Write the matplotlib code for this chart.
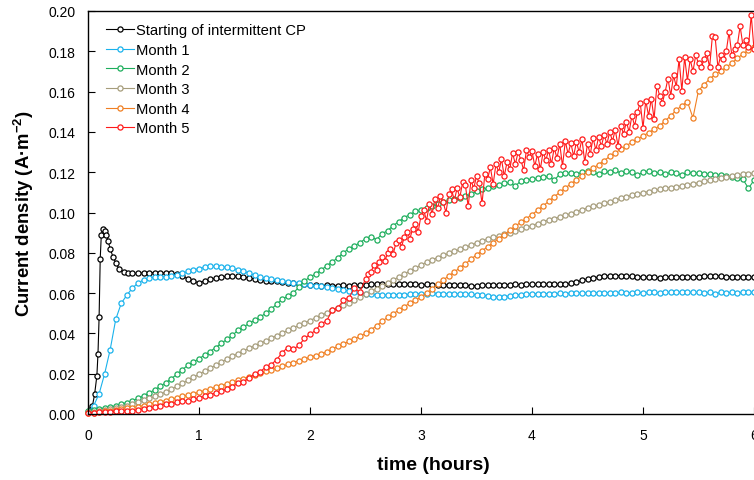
import numpy as np
import matplotlib
matplotlib.use("Agg")
import matplotlib.pyplot as plt
from matplotlib.ticker import FormatStrFormatter

plt.rcParams['font.family'] = ['Liberation Sans', 'DejaVu Sans']

# time grid (hours), 3-minute sampling
t = np.round(np.arange(0, 6.0001, 0.05), 3)

# starting of intermittent CP: denser sampling at the beginning
black_t_early = [0, 0.02, 0.04, 0.06, 0.08, 0.09, 0.10, 0.11, 0.12, 0.135,
                 0.15, 0.165, 0.18, 0.20, 0.225, 0.25, 0.28, 0.32, 0.36, 0.40]
black_early = [0.001, 0.002, 0.004, 0.010, 0.019, 0.030, 0.048, 0.077, 0.089, 0.092,
               0.091, 0.089, 0.086, 0.082, 0.078, 0.075, 0.072, 0.0705, 0.0700, 0.0698]
black_t_late = np.round(np.arange(0.45, 6.0001, 0.05), 3)
black_late = [
    0.0698, 0.0700, 0.0700, 0.0702, 0.0700, 0.0700, 0.0698, 0.0695, 0.0685, 0.0670,
    0.0658, 0.0652, 0.0660, 0.0668, 0.0675, 0.0680, 0.0683, 0.0684, 0.0683, 0.0680,
    0.0676, 0.0670, 0.0665, 0.0662, 0.0660, 0.0658, 0.0655, 0.0650, 0.0648, 0.0645,
    0.0643, 0.0640, 0.0638, 0.0637, 0.0638, 0.0637, 0.0636, 0.0638, 0.0637, 0.0638,
    0.0640, 0.0641, 0.0643, 0.0645, 0.0645, 0.0646, 0.0644, 0.0645, 0.0643, 0.0645,
    0.0644, 0.0642, 0.0643, 0.0641, 0.0640, 0.0642, 0.0640, 0.0639, 0.0640, 0.0638,
    0.0637, 0.0637, 0.0638, 0.0640, 0.0641, 0.0640, 0.0642, 0.0641, 0.0643, 0.0642,
    0.0643, 0.0644, 0.0643, 0.0645, 0.0644, 0.0645, 0.0643, 0.0644, 0.0648, 0.0655,
    0.0663, 0.0670, 0.0674, 0.0680, 0.0684, 0.0686, 0.0687, 0.0686, 0.0685, 0.0683,
    0.0682, 0.0680, 0.0679, 0.0678, 0.0677, 0.0679, 0.0680, 0.0681, 0.0680, 0.0681,
    0.0680, 0.0682, 0.0684, 0.0685, 0.0686, 0.0684, 0.0682, 0.0680, 0.0681, 0.0679,
    0.0680, 0.0678]

month1 = [
    0.001, 0.004, 0.010, 0.020, 0.032, 0.047, 0.055, 0.059, 0.0625, 0.065,
    0.0665, 0.0675, 0.0680, 0.0680, 0.0682, 0.0685, 0.0690, 0.0698, 0.0708, 0.0715,
    0.0722, 0.0728, 0.0733, 0.0733, 0.0730, 0.0728, 0.0724, 0.0715, 0.0708, 0.0700,
    0.0688, 0.0680, 0.0675, 0.0670, 0.0665, 0.0660, 0.0655, 0.0652, 0.0648, 0.0645,
    0.0640, 0.0636, 0.0633, 0.0630, 0.0625, 0.0620, 0.0615, 0.0610, 0.0605, 0.0602,
    0.0598, 0.0595, 0.0592, 0.0590, 0.0590, 0.0592, 0.0593, 0.0592, 0.0595, 0.0597,
    0.0597, 0.0598, 0.0600, 0.0598, 0.0596, 0.0598, 0.0597, 0.0595, 0.0596, 0.0594,
    0.0592, 0.0590, 0.0586, 0.0582, 0.0580, 0.0583, 0.0586, 0.0590, 0.0592, 0.0594,
    0.0595, 0.0597, 0.0596, 0.0598, 0.0597, 0.0599, 0.0598, 0.0600, 0.0599, 0.0601,
    0.0600, 0.0602, 0.0601, 0.0600, 0.0602, 0.0601, 0.0603, 0.0602, 0.0601, 0.0603,
    0.0602, 0.0604, 0.0603, 0.0602, 0.0604, 0.0603, 0.0605, 0.0604, 0.0603, 0.0604,
    0.0603, 0.0602, 0.0604, 0.0598, 0.0603, 0.0600, 0.0605, 0.0602, 0.0604, 0.0603,
    0.0604]

month2 = [
    0.0015, 0.0020, 0.0025, 0.0030, 0.0035, 0.0040, 0.0048, 0.0057, 0.0066, 0.0077,
    0.0090, 0.0104, 0.0120, 0.0137, 0.0155, 0.0175, 0.0197, 0.0220, 0.0242, 0.0258,
    0.0275, 0.0292, 0.0310, 0.0330, 0.0350, 0.0370, 0.0390, 0.0415, 0.0430, 0.0450,
    0.0465, 0.0480, 0.0500, 0.0520, 0.0545, 0.0570, 0.0585, 0.0600, 0.0630, 0.0660,
    0.0680, 0.0695, 0.0715, 0.0735, 0.0755, 0.0775, 0.0800, 0.0820, 0.0835, 0.0850,
    0.0870, 0.0880, 0.0865, 0.0895, 0.0910, 0.0935, 0.0955, 0.0975, 0.0990, 0.1005,
    0.1010, 0.1020, 0.1030, 0.1040, 0.1050, 0.1060, 0.1065, 0.1070, 0.1080, 0.1090,
    0.1105, 0.1115, 0.1120, 0.1130, 0.1135, 0.1145, 0.1150, 0.1130, 0.1158, 0.1160,
    0.1165, 0.1170, 0.1175, 0.1180, 0.1160, 0.1190, 0.1195, 0.1195, 0.1190, 0.1200,
    0.1205, 0.1200, 0.1190, 0.1205, 0.1200, 0.1210, 0.1195, 0.1205, 0.1200, 0.1185,
    0.1200, 0.1205, 0.1195, 0.1200, 0.1190, 0.1200, 0.1195, 0.1185, 0.1200, 0.1195,
    0.1195, 0.1190, 0.1190, 0.1185, 0.1185, 0.1180, 0.1175, 0.1170, 0.1165, 0.1120,
    0.1160]

month3 = [
    0.0010, 0.0012, 0.0015, 0.0020, 0.0025, 0.0030, 0.0035, 0.0042, 0.0050, 0.0058,
    0.0067, 0.0077, 0.0087, 0.0098, 0.0110, 0.0123, 0.0137, 0.0152, 0.0167, 0.0182,
    0.0197, 0.0212, 0.0227, 0.0242, 0.0257, 0.0272, 0.0287, 0.0300, 0.0313, 0.0326,
    0.0338, 0.0350, 0.0363, 0.0376, 0.0389, 0.0402, 0.0415, 0.0428, 0.0440, 0.0452,
    0.0464, 0.0477, 0.0490, 0.0502, 0.0514, 0.0527, 0.0540, 0.0553, 0.0566, 0.0580,
    0.0594, 0.0608, 0.0622, 0.0636, 0.0650, 0.0665, 0.0680, 0.0695, 0.0710, 0.0725,
    0.0740, 0.0753, 0.0765, 0.0776, 0.0787, 0.0797, 0.0807, 0.0817, 0.0827, 0.0838,
    0.0849, 0.0860, 0.0868, 0.0876, 0.0884, 0.0892, 0.0900, 0.0908, 0.0917, 0.0926,
    0.0935, 0.0945, 0.0955, 0.0963, 0.0970, 0.0978, 0.0986, 0.0995, 0.1004, 0.1013,
    0.1022, 0.1030, 0.1038, 0.1046, 0.1054, 0.1062, 0.1070, 0.1078, 0.1085, 0.1092,
    0.1098, 0.1104, 0.1110, 0.1115, 0.1120, 0.1124, 0.1128, 0.1132, 0.1137, 0.1142,
    0.1148, 0.1154, 0.1160, 0.1165, 0.1170, 0.1175, 0.1180, 0.1185, 0.1190, 0.1193,
    0.1195]

month4 = [
    0.0005, 0.0007, 0.0010, 0.0013, 0.0016, 0.0020, 0.0024, 0.0028, 0.0032, 0.0037,
    0.0042, 0.0048, 0.0054, 0.0060, 0.0066, 0.0073, 0.0080, 0.0087, 0.0094, 0.0101,
    0.0108, 0.0116, 0.0124, 0.0132, 0.0140, 0.0149, 0.0158, 0.0167, 0.0176, 0.0185,
    0.0195, 0.0203, 0.0211, 0.0219, 0.0228, 0.0237, 0.0246, 0.0255, 0.0264, 0.0273,
    0.0282, 0.0290, 0.0298, 0.0308, 0.0322, 0.0336, 0.0348, 0.0360, 0.0372, 0.0386,
    0.0400, 0.0418, 0.0438, 0.0460, 0.0480, 0.0498, 0.0515, 0.0533, 0.0550, 0.0565,
    0.0580, 0.0600, 0.0620, 0.0643, 0.0665, 0.0685, 0.0705, 0.0725, 0.0745, 0.0768,
    0.0790, 0.0810, 0.0830, 0.0850, 0.0870, 0.0890, 0.0912, 0.0932, 0.0952, 0.0970,
    0.0990, 0.1010, 0.1033, 0.1055, 0.1078, 0.1100, 0.1122, 0.1142, 0.1162, 0.1182,
    0.1200, 0.1220, 0.1238, 0.1258, 0.1278, 0.1296, 0.1314, 0.1332, 0.1348, 0.1364,
    0.1380, 0.1396, 0.1413, 0.1430, 0.1455, 0.1480, 0.1508, 0.1530, 0.1550, 0.1470,
    0.1605, 0.1635, 0.1662, 0.1685, 0.1703, 0.1720, 0.1742, 0.1765, 0.1787, 0.1805,
    0.1820]

# month 5: 3-min sampling up to 2.5 h, then 1.5-min sampling (noisy part)
red_t_early = np.round(np.arange(0, 2.5001, 0.05), 3)
red_early = [
    0.0005, 0.0006, 0.0008, 0.0010, 0.0012, 0.0013, 0.0014, 0.0015, 0.0016, 0.0020,
    0.0025, 0.0030, 0.0036, 0.0042, 0.0050, 0.0052, 0.0058, 0.0063, 0.0066, 0.0072,
    0.0080, 0.0088, 0.0095, 0.0105, 0.0112, 0.0125, 0.0135, 0.0152, 0.0160, 0.0178,
    0.0198, 0.0210, 0.0232, 0.0245, 0.0270, 0.0305, 0.0330, 0.0322, 0.0340, 0.0375,
    0.0395, 0.0415, 0.0448, 0.0462, 0.0515, 0.0525, 0.0565, 0.0575, 0.0625, 0.0605,
    0.0670]
red_t_late = np.round(np.arange(2.525, 6.0001, 0.025), 3)
red_late = [
    0.0695, 0.0705, 0.0740, 0.0715, 0.0755, 0.0780, 0.0760, 0.0800,
    0.0820, 0.0795, 0.0850, 0.0865, 0.0830, 0.0880, 0.0905, 0.0870,
    0.0920, 0.0945, 0.0905, 0.0985, 0.1010, 0.0960, 0.1040, 0.0995,
    0.1065, 0.1020, 0.1080, 0.1050, 0.1000, 0.1090, 0.1115, 0.1060,
    0.1120, 0.1075, 0.1150, 0.1135, 0.1030, 0.1160, 0.1120, 0.1180,
    0.1145, 0.1045, 0.1190, 0.1165, 0.1225, 0.1140, 0.1240, 0.1200,
    0.1265, 0.1180, 0.1250, 0.1215, 0.1295, 0.1240, 0.1300, 0.1260,
    0.1210, 0.1310, 0.1275, 0.1305, 0.1230, 0.1290, 0.1215, 0.1300,
    0.1260, 0.1310, 0.1240, 0.1320, 0.1270, 0.1340, 0.1230, 0.1355,
    0.1290, 0.1345, 0.1280, 0.1350, 0.1300, 0.1365, 0.1250, 0.1340,
    0.1290, 0.1370, 0.1310, 0.1375, 0.1330, 0.1385, 0.1340, 0.1400,
    0.1355, 0.1410, 0.1330, 0.1430, 0.1390, 0.1450, 0.1400, 0.1480,
    0.1430, 0.1500, 0.1545, 0.1420, 0.1555, 0.1480, 0.1565, 0.1465,
    0.1630, 0.1580, 0.1545, 0.1600, 0.1665, 0.1580, 0.1680, 0.1625,
    0.1760, 0.1605, 0.1770, 0.1655, 0.1760, 0.1700, 0.1780, 0.1740,
    0.1720, 0.1760, 0.1790, 0.1720, 0.1875, 0.1870, 0.1720, 0.1780,
    0.1760, 0.1800, 0.1895, 0.1780, 0.1810, 0.1830, 0.1925, 0.1830,
    0.1855, 0.1820, 0.1980, 0.1810]

labels = ['Starting of intermittent CP', 'Month 1', 'Month 2', 'Month 3', 'Month 4', 'Month 5']
colors = ['#000000', '#1AB2EC', '#1DAE5C', '#A69D7C', '#F07F22', '#FF1A1A']

series = [
    (np.concatenate([black_t_early, black_t_late]), black_early + black_late),
    (t, month1),
    (t, month2),
    (t, month3),
    (t, month4),
    (np.concatenate([red_t_early, red_t_late]), red_early + red_late),
]

fig = plt.figure(figsize=(7.54, 4.81), dpi=100)
ax = fig.add_axes([88 / 754, 1 - 415 / 481, 666 / 754, 403 / 481])

for (x, y), lab, c in zip(series, labels, colors):
    ax.plot(x, y, '-o', color=c, lw=0.8, ms=3.7, mfc='white', mec=c, mew=0.9,
            label=lab, clip_on=False)

ax.set_xlim(0, 6)
ax.set_ylim(0, 0.20)
ax.set_xticks(range(0, 7))
ax.set_yticks(np.arange(0, 0.2001, 0.02))
ax.yaxis.set_major_formatter(FormatStrFormatter('%.2f'))
ax.tick_params(direction='in', length=5, width=0.8, labelsize=10, pad=9)
ax.tick_params(axis='x', pad=10)
ax.spines['right'].set_visible(False)
for s in ['left', 'bottom', 'top']:
    ax.spines[s].set_linewidth(1.0)

ax.set_xlabel('time (hours)', fontsize=14, fontweight='bold')
ax.xaxis.set_label_coords(0.518, -0.104)
ax.set_ylabel('Current density (A·m$^{\\mathregular{-2}}$)', fontsize=13.3,
              fontweight='bold', labelpad=9)

leg = ax.legend(loc='upper left', bbox_to_anchor=(0.012, 0.995), frameon=False,
                fontsize=10.6, handlelength=1.9, handletextpad=0.15,
                labelspacing=0.38, borderaxespad=0.3)

fig.savefig('out.png', dpi=100)
